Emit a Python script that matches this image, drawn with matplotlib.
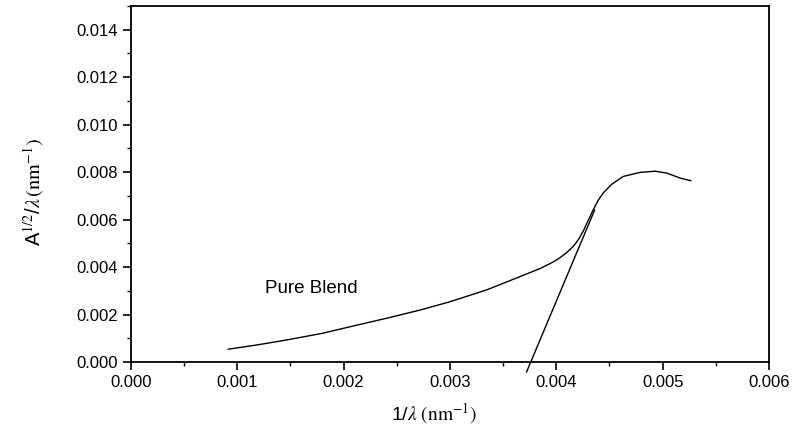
import matplotlib
matplotlib.use("Agg")
import matplotlib.pyplot as plt
from matplotlib.ticker import MultipleLocator, FormatStrFormatter

plt.rcParams['font.family'] = ['Liberation Sans', 'DejaVu Sans']
plt.rcParams['mathtext.fontset'] = 'stix'

# Absorption curve: A^(1/2)/lambda versus 1/lambda
inv_lambda = [0.000915, 0.0012, 0.001465, 0.0018, 0.002092, 0.0024, 0.002719,
              0.0030, 0.003346, 0.003659, 0.003848, 0.003973, 0.004036, 0.0041,
              0.004161, 0.004208, 0.004255, 0.004302, 0.004349, 0.004396,
              0.004443, 0.004521, 0.00463, 0.004788, 0.00493, 0.00504,
              0.005165, 0.005265]
signal = [0.00054, 0.00073, 0.00093, 0.00121, 0.00152, 0.00184, 0.00219,
          0.00254, 0.00304, 0.0036, 0.00394, 0.00422, 0.0044, 0.00462,
          0.00488, 0.00516, 0.00553, 0.00599, 0.00643, 0.00683,
          0.00713, 0.00749, 0.00782, 0.00799, 0.00804, 0.00796,
          0.00775, 0.00764]

# Linear extrapolation of the absorption edge
fit_x = [0.00372, 0.00436]
fit_y = [-0.00042, 0.0064]

fig = plt.figure(figsize=(7.93, 4.30), dpi=100)
ax = fig.add_axes([0.1652, 0.1581, 0.9697 - 0.1652, 0.986 - 0.1581])

ax.plot(inv_lambda, signal, color='black', lw=1.0)
ax.plot(fit_x, fit_y, color='black', lw=1.0, clip_on=False)

ax.text(0.00126, 0.00308, 'Pure Blend', fontsize=13.5, va='center', ha='left')

ax.set_xlim(0, 0.006)
ax.set_ylim(0, 0.015)
ax.xaxis.set_major_locator(MultipleLocator(0.001))
ax.xaxis.set_minor_locator(MultipleLocator(0.0005))
ax.yaxis.set_minor_locator(MultipleLocator(0.001))
ax.xaxis.set_major_formatter(FormatStrFormatter('%.3f'))
ax.yaxis.set_major_formatter(FormatStrFormatter('%.3f'))
ax.set_yticks([0, 0.002, 0.004, 0.006, 0.008, 0.010, 0.012, 0.014])

ax.tick_params(which='major', direction='out', length=6, width=1.2, labelsize=12)
ax.tick_params(which='minor', direction='out', length=3, width=1.0)
for s in ax.spines.values():
    s.set_linewidth(1.3)

fig.text(434 / 793, 1 - 414 / 430, r'1/$\lambda\ \mathrm{(nm^{-1})}$',
         fontsize=14, ha='center', va='center')
fig.text(34 / 793, 1 - 192 / 430, r'A$^{1/2}$/$\lambda\,\mathrm{(nm^{-1})}$',
         fontsize=14.5, ha='center', va='center', rotation=90)

fig.savefig('out.png', dpi=100)
